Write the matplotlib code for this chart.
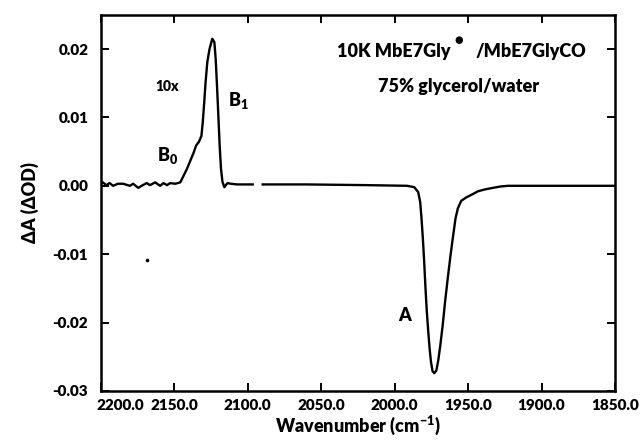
import numpy as np
import matplotlib
matplotlib.use("Agg")
import matplotlib.pyplot as plt
import matplotlib.transforms as mtransforms

plt.rcParams['font.family'] = ['Lato', 'DejaVu Sans']
plt.rcParams['font.weight'] = 'heavy'
plt.rcParams['mathtext.fontset'] = 'custom'
plt.rcParams['mathtext.rm'] = 'Lato:heavy'
plt.rcParams['mathtext.it'] = 'Lato:heavy'
plt.rcParams['mathtext.bf'] = 'Lato:heavy'
plt.rcParams['mathtext.sf'] = 'Lato:heavy'

W = 'heavy'

# --- data (wavenumber in cm^-1, dA in OD) ---
seg1_wn = [2200.0, 2198.6, 2196.2, 2194.0, 2191.7, 2188.3, 2184.8, 2180.2, 2178.0,
           2174.5, 2172.2, 2168.8, 2166.5, 2163.0, 2159.6, 2157.3, 2155.0, 2152.7,
           2149.3, 2145.9, 2143.6, 2141.3, 2139.0, 2136.7, 2135.1, 2133.3, 2131.5,
           2130.6, 2129.6, 2128.7, 2127.5, 2126.0, 2124.1, 2122.7, 2121.8, 2120.9,
           2120.0, 2119.1, 2118.2, 2117.2, 2115.9, 2113.8, 2111.5, 2107.0, 2101.0,
           2096.6]
seg1_dA = [0.0003, 0.0005, 0.0001, 0.0004, 0.0000, 0.0003, 0.0003, 0.0000, 0.0003,
           -0.0003, 0.0000, 0.0004, 0.0001, 0.0005, 0.0000, 0.0004, 0.0001, 0.0004,
           0.0003, 0.0005, 0.0015, 0.0025, 0.0037, 0.0049, 0.0059, 0.0064, 0.0073,
           0.0093, 0.0122, 0.0151, 0.0181, 0.0200, 0.0215, 0.0210, 0.0185, 0.0146,
           0.0103, 0.0059, 0.0025, 0.0006, -0.0002, 0.0004, 0.0003, 0.0002, 0.0002,
           0.0002]

seg2_wn = [2089.8, 2060.0, 2020.0, 1991.4, 1986.7, 1984.0, 1982.6, 1981.7, 1980.8,
           1979.9, 1979.0, 1978.1, 1977.1, 1976.2, 1975.3, 1974.2, 1973.0, 1971.6,
           1970.3, 1968.9, 1967.3, 1965.7, 1963.9, 1962.0, 1960.2, 1958.6, 1957.0,
           1954.7, 1951.3, 1946.7, 1943.3, 1938.0, 1933.0, 1928.0, 1922.7, 1900.0,
           1880.0, 1850.0]
seg2_dA = [0.0002, 0.0002, 0.0001, 0.0000, -0.0002, -0.0009, -0.0024, -0.0048, -0.0077,
           -0.0111, -0.0150, -0.0184, -0.0214, -0.0238, -0.0257, -0.0271, -0.0274, -0.0270,
           -0.0255, -0.0233, -0.0204, -0.0170, -0.0136, -0.0102, -0.0073, -0.0048, -0.0033,
           -0.0022, -0.0017, -0.0012, -0.0008, -0.0005, -0.0003, -0.0001, 0.0000, 0.0000,
           0.0000, 0.0000]

stray_wn = [2168.5]
stray_dA = [-0.0108]

x_ticks = [2200, 2150, 2100, 2050, 2000, 1950, 1900, 1850]
x_labels = ["2200.0", "2150.0", "2100.0", "2050.0", "2000.0", "1950.0", "1900.0", "1850.0"]
y_ticks = [-0.03, -0.02, -0.01, 0.00, 0.01, 0.02]
y_labels = ["-0.03", "-0.02", "-0.01", "0.00", "0.01", "0.02"]

fig = plt.figure(figsize=(6.42, 4.41), dpi=100)
ax = fig.add_axes([0.157, 0.1134, 0.801, 0.853])

ax.plot(seg1_wn, seg1_dA, color='black', lw=1.7, solid_joinstyle='round')
ax.plot(seg2_wn, seg2_dA, color='black', lw=1.7, solid_joinstyle='round')
ax.plot(stray_wn, stray_dA, 'o', color='black', ms=1.6)

ax.set_xlim(2200, 1850)
ax.set_ylim(-0.03, 0.025)

ax.set_xticks(x_ticks)
ax.set_xticklabels(x_labels)
ax.set_yticks(y_ticks)
ax.set_yticklabels(y_labels)
ax.tick_params(direction='in', length=6, width=1.4, top=True, right=True,
               labelsize=11)
ax.tick_params(axis='x', pad=6)
ax.tick_params(axis='y', pad=9)
for lab in ax.get_xticklabels() + ax.get_yticklabels():
    lab.set_fontweight(W)

# shift first x label to the right
first = ax.get_xticklabels()[0]
first.set_transform(first.get_transform() +
                    mtransforms.ScaledTranslation(20 / 100, 0, fig.dpi_scale_trans))

for sp in ax.spines.values():
    sp.set_linewidth(1.8)

ax.set_xlabel("Wavenumber (cm$^{-1}$)", fontsize=13, fontweight=W, labelpad=1)
ax.set_ylabel("ΔA (ΔOD)", fontsize=13, fontweight=W, labelpad=10)

# title lines
t1 = ax.text(1961.8, 0.0188, "10K MbE7Gly", ha='right', va='baseline',
             fontsize=13, fontweight=W)
ax.annotate("\u25CF", xy=(1, 1), xycoords=t1, xytext=(6, 2), textcoords='offset points',
            ha='center', va='center', fontsize=7, family='DejaVu Sans')
ax.text(1944.6, 0.0188, "/MbE7GlyCO", ha='left', va='baseline',
        fontsize=13, fontweight=W)
ax.text(1956.3, 0.0137, "75% glycerol/water", ha='center', va='baseline',
        fontsize=13, fontweight=W)

ax.text(2154.8, 0.0145, "10x", ha='center', va='center', fontsize=10, fontweight=W)
ax.text(2154.5, 0.0044, "B$_0$", ha='center', va='center', fontsize=13, fontweight=W)
ax.text(2106, 0.0125, "B$_1$", ha='center', va='center', fontsize=13, fontweight=W)
ax.text(1993.4, -0.019, "A", ha='center', va='center', fontsize=13, fontweight=W)

fig.savefig("out.png", dpi=100)
